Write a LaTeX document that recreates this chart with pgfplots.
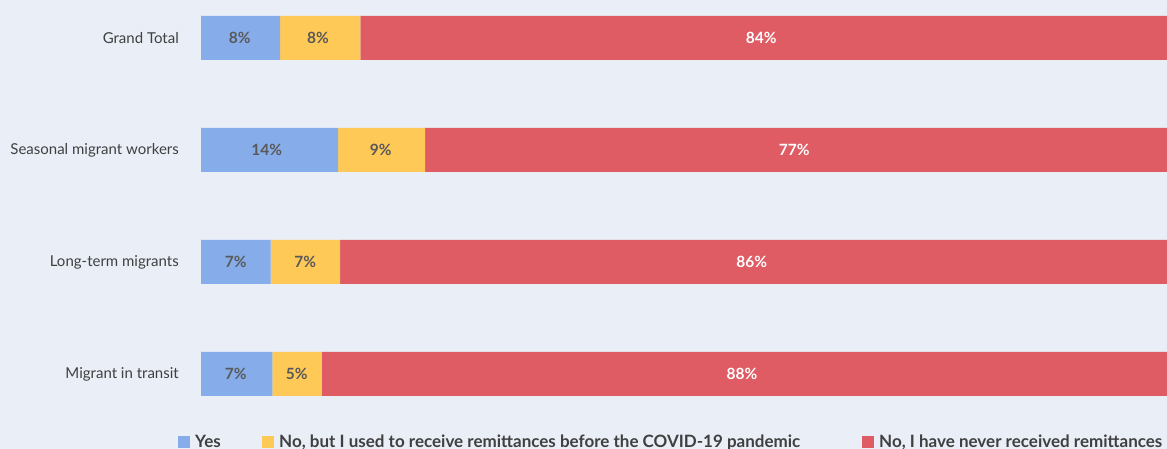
\documentclass[border=0pt]{standalone}
\usepackage{fontspec}
\setmainfont{Lato}
\usepackage{pgfplots}
\pgfplotsset{compat=1.18}
\definecolor{bg}{HTML}{E9EEF7}
\definecolor{cblue}{HTML}{86ADE9}
\definecolor{cyel}{HTML}{FFC957}
\definecolor{cred}{HTML}{DF5C65}
\definecolor{labgray}{HTML}{595959}
\definecolor{txtgray}{HTML}{404040}

\begin{document}
\begin{tikzpicture}[x=1pt,y=1pt]
\fill[bg] (0,0) rectangle (1167,449);
\useasboundingbox (0,0) rectangle (1167,449);
\pgfplotsset{base/.style={
  scale only axis, width=966pt, height=425.6pt,
  xmin=0, xmax=100, ymin=-0.5, ymax=3.3,
  at={(201pt,19pt)}, anchor=south west,
  axis line style={draw=none}, xtick=\empty, clip=false}}
% bars
\begin{axis}[base,
  xbar stacked, bar width=44pt,
  ytick={0,1,2,3},
  yticklabels={Migrant in transit, Long-term migrants, Seasonal migrant workers, Grand Total},
  ytick style={draw=none},
  yticklabel style={font=\fontsize{15}{17}\selectfont, text=txtgray, inner sep=0pt, xshift=-22pt},
  legend columns=3,
  legend style={at={(axis description cs:-0.0238,-0.0275)}, anchor=west,
    draw=none, fill=none, inner sep=0pt,
    font=\fontsize{17}{19}\selectfont\bfseries, text=txtgray,
    nodes={inner sep=0pt},
    /tikz/every odd column/.append style={column sep=5pt}},
  legend image code/.code={\fill[#1, draw=none] (0pt,-6pt) rectangle (12pt,6pt);},
]
\addplot[fill=cblue, draw=none] coordinates {(7.4,0) (7.2,1) (14.2,2) (8.2,3)};
\addplot[fill=cyel, draw=none] coordinates {(5.1,0) (7.2,1) (9.0,2) (8.3,3)};
\addplot[fill=cred, draw=none] coordinates {(87.5,0) (85.6,1) (76.8,2) (83.5,3)};
\legend{\makebox[67pt][l]{Yes}, \makebox[583pt][l]{No, but I used to receive remittances before the COVID-19 pandemic}, {No, I have never received remittances}}
\end{axis}
% segment labels
\begin{axis}[base, hide axis]
\addplot[draw=none, mark=none, nodes near coords, point meta=explicit symbolic,
  every node near coord/.append style={anchor=center, font=\fontsize{15.5}{17}\selectfont\bfseries, text=labgray}]
  coordinates {(3.6,0) [7\%] (9.9,0) [5\%] (3.6,1) [7\%] (10.8,1) [7\%]
               (6.8,2) [14\%] (18.6,2) [9\%] (4,3) [8\%] (12.1,3) [8\%]};
\addplot[draw=none, mark=none, nodes near coords, point meta=explicit symbolic,
  every node near coord/.append style={anchor=center, font=\fontsize{15.5}{17}\selectfont\bfseries, text=white}]
  coordinates {(56,0) [88\%] (57,1) [86\%] (61.4,2) [77\%] (58,3) [84\%]};
\end{axis}
\end{tikzpicture}
\end{document}
